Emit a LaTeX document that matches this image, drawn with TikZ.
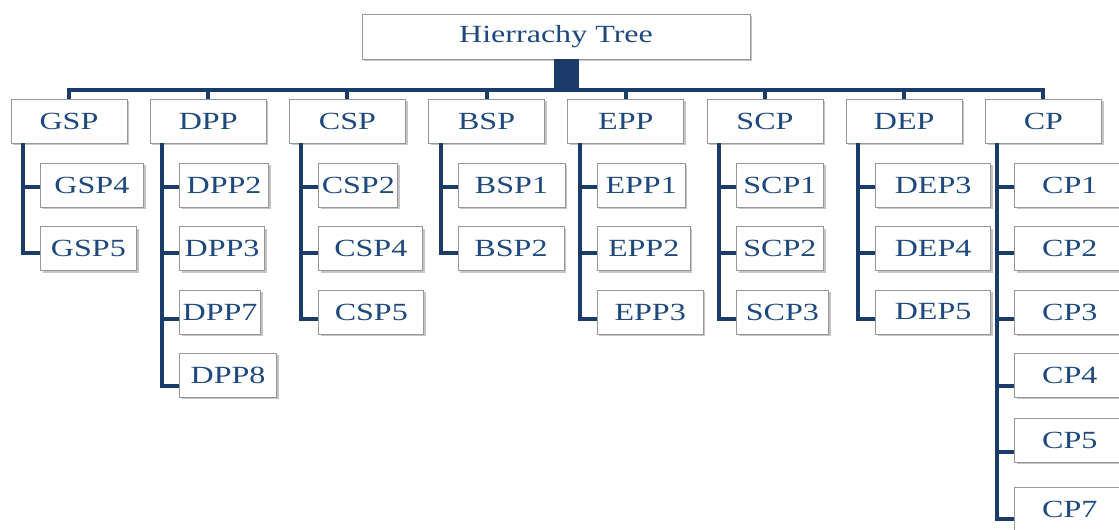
\documentclass[tikz,border=0pt]{standalone}
\usepackage{fontspec}
\setmainfont[FakeStretch=1.3]{Liberation Serif}
\usetikzlibrary{shadows}

\definecolor{treetext}{HTML}{1F497D}
\definecolor{treelink}{HTML}{1B3C6B}
\definecolor{boxline}{HTML}{979797}

\tikzset{
	treebox/.style={draw=boxline, line width=0.6pt, fill=white, text=treetext,
		font=\fontsize{18.5}{20}\selectfont, minimum height=33pt, inner sep=0pt,
		drop shadow={shadow xshift=1.6pt, shadow yshift=-1.6pt, opacity=0.45}},
	treelink/.style={draw=treelink, line width=3pt},
}

\begin{document}
\begin{tikzpicture}[x=0.75pt, y=-0.75pt]

% parameters %{{{2

	\def\pitch{139.2}
	\def\firstx{69}
	\def\levely{121}

% frame %{{{2

	\useasboundingbox (0,0) rectangle (1119,529);
	\fill[white] (0,0) rectangle (1119,529);
	\clip (0,0) rectangle (1119,529);

% root %{{{2

	\node[treebox, minimum width=291pt, minimum height=33.75pt] (root) at (556,36.5) {Hierrachy Tree};

% first level %{{{2

	\foreach \name [count=\i] in {GSP,DPP,CSP,BSP,EPP,SCP,DEP,CP} {
		\node[treebox, minimum width=87pt] (\name) at ({\firstx+\pitch*(\i-1)},\levely) {\name};
		\draw[treelink] ([xshift={(\i-1)*2.25pt}]root.south) -- ++(0,31) -| (\name.north);
	}

% second level %{{{2

	\foreach \name/\kids [count=\i] in {
		GSP/{GSP4/103,GSP5/96},
		DPP/{DPP2/89,DPP3/85,DPP7/81,DPP8/97},
		CSP/{CSP2/79,CSP4/104,CSP5/105},
		BSP/{BSP1/107,BSP2/106},
		EPP/{EPP1/88,EPP2/93,EPP3/106},
		SCP/{SCP1/87,SCP2/87,SCP3/92},
		DEP/{DEP3/115,DEP4/115,DEP5/115},
		CP/{CP1/110,CP2/110,CP3/110,CP4/110,CP5/110,CP7/110}} {
		\foreach \kid/\w [count=\k] in \kids {
			\pgfmathsetmacro\boxy{{185,248.5,312,375,440,509}[\k-1]}
			\pgfmathsetmacro\ticky{{187,253,319,386,452,519}[\k-1]}
			\pgfmathsetmacro\shift{-0.75*(\ticky-\boxy)}
			\node[treebox, anchor=west, minimum width=\w*0.75pt] (\kid)
				at ({\firstx+\pitch*(\i-1)-29},\boxy) {\kid};
			\draw[treelink] ([xshift=-34.5pt]\name.south) |- ([yshift=\shift pt]\kid.west);
		}
	}

% closing %{{{2

\end{tikzpicture}
\end{document}
